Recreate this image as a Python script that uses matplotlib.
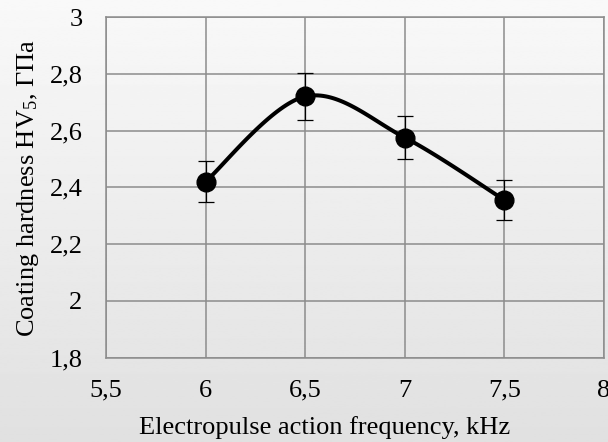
import numpy as np
import matplotlib
matplotlib.use("Agg")
import matplotlib.pyplot as plt

# frequency, kHz / hardness, GPa / error
freq = [6.0, 6.5, 7.0, 7.5]
hardness = [2.42, 2.72, 2.575, 2.355]
err = [0.073, 0.082, 0.077, 0.071]

x_ticks = [5.5, 6, 6.5, 7, 7.5, 8]
x_labels = ["5,5", "6", "6,5", "7", "7,5", "8"]
y_ticks = [1.8, 2.0, 2.2, 2.4, 2.6, 2.8, 3.0]
y_labels = ["1,8", "2", "2,2", "2,4", "2,6", "2,8", "3"]


def smooth(xs, ys, n=40):
    # cubic bezier through the points, control points from neighbours
    xs = np.asarray(xs, float)
    ys = np.asarray(ys, float)
    px = np.concatenate([[xs[0]], xs, [xs[-1]]])
    py = np.concatenate([[ys[0]], ys, [ys[-1]]])
    out_x, out_y = [], []
    t = np.linspace(0, 1, n)
    for i in range(1, len(px) - 2):
        p0 = np.array([px[i], py[i]])
        p3 = np.array([px[i + 1], py[i + 1]])
        p1 = p0 + (np.array([px[i + 1], py[i + 1]]) - np.array([px[i - 1], py[i - 1]])) / 6
        p2 = p3 - (np.array([px[i + 2], py[i + 2]]) - np.array([px[i], py[i]])) / 6
        b = ((1 - t) ** 3)[:, None] * p0 + (3 * (1 - t) ** 2 * t)[:, None] * p1 \
            + (3 * (1 - t) * t ** 2)[:, None] * p2 + (t ** 3)[:, None] * p3
        out_x.extend(b[:, 0])
        out_y.extend(b[:, 1])
    return out_x, out_y


plt.rcParams["font.family"] = ["Liberation Serif", "DejaVu Serif"]
plt.rcParams["mathtext.fontset"] = "custom"
plt.rcParams["mathtext.rm"] = "Liberation Serif"
plt.rcParams["mathtext.it"] = "Liberation Serif:italic"

FS = 19

fig = plt.figure(figsize=(6.08, 4.42), dpi=100)

# gray vertical gradient behind everything
bg = fig.add_axes([0, 0, 1, 1], zorder=-10)
grad = np.linspace(0.975, 0.88, 256).reshape(-1, 1)
bg.imshow(grad, aspect="auto", cmap="gray", vmin=0, vmax=1, extent=[0, 1, 0, 1])
bg.axis("off")

ax = fig.add_axes([106 / 608, 1 - 357.5 / 442, 498 / 608, 340.5 / 442])
ax.patch.set_alpha(0)

sx, sy = smooth(freq, hardness)
ax.plot(sx, sy, color="black", lw=2.9, solid_capstyle="round", zorder=3)
ax.errorbar(freq, hardness, yerr=err, fmt="none", ecolor="black",
            elinewidth=0.9, capsize=5.5, capthick=0.9, zorder=2)
ax.plot(freq, hardness, "o", color="black", ms=13.5, zorder=4)

ax.set_xlim(5.5, 8)
ax.set_ylim(1.8, 3.0)
ax.set_xticks(x_ticks)
ax.set_xticklabels(x_labels, fontsize=FS)
ax.set_yticks(y_ticks)
ax.set_yticklabels(y_labels, fontsize=FS)
ax.tick_params(axis="x", length=0, pad=16)
ax.tick_params(axis="y", length=0, pad=17)
ax.grid(True, color="#8c8c8c", lw=1.1)
ax.set_axisbelow(True)
for s in ax.spines.values():
    s.set_color("#8c8c8c")
    s.set_linewidth(1.1)

# axis titles placed on the figure, centred on the chart area
fig.text(325 / 608, 1 - 428 / 442, "Electropulse action frequency, kHz",
         fontsize=FS, ha="center", va="center")
fig.text(28 / 608, 1 - 188 / 442, "Coating hardness HV$_{\\mathit{5}}$, ГПа",
         fontsize=FS, ha="center", va="center", rotation=90)

fig.savefig("out.png", dpi=100)
